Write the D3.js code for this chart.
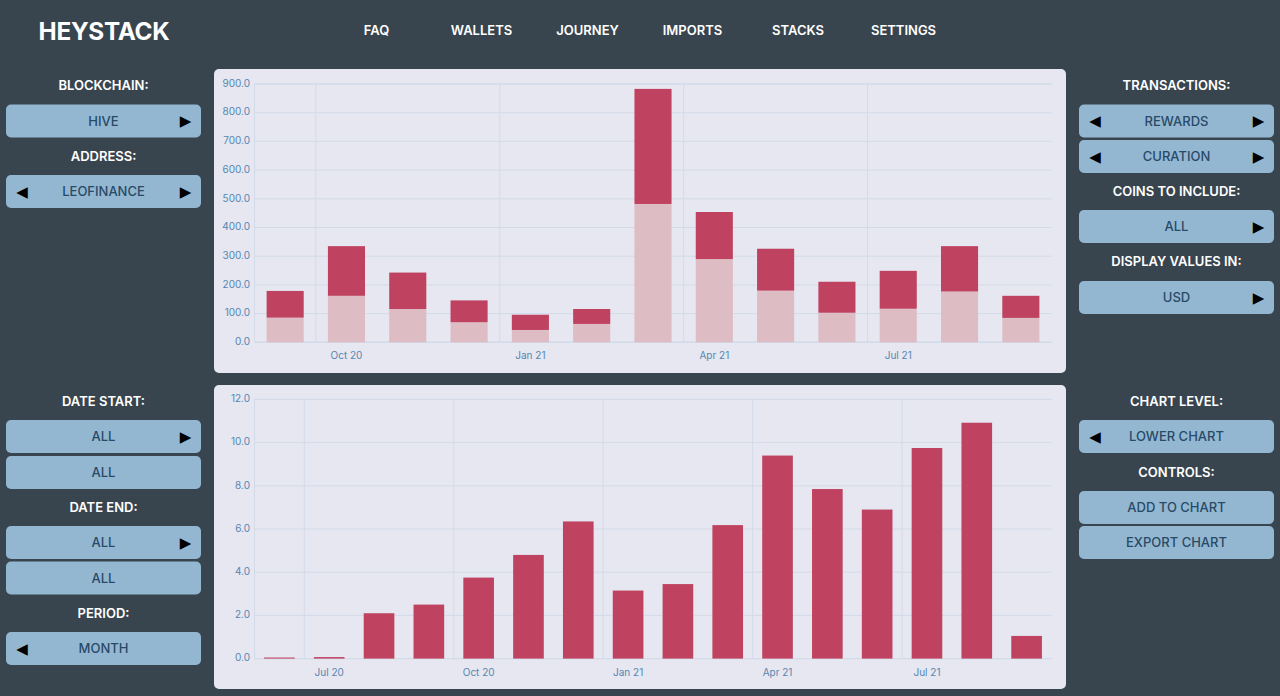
<!DOCTYPE html>
<html><head><meta charset="utf-8">
<script src="https://cdn.jsdelivr.net/npm/d3@7/dist/d3.min.js"></script>
<style>
html,body{margin:0;padding:0;background:#38454f;overflow:hidden}
svg{display:block;font-family:Inter,"Noto Sans",sans-serif}
</style></head><body><svg id="c" width="1280" height="696"></svg>
<script>
// ---- data ----
const topMonths = ["Sep 20","Oct 20","Nov 20","Dec 20","Jan 21","Feb 21","Mar 21","Apr 21","May 21","Jun 21","Jul 21","Aug 21","Sep 21"];
const topLower  = [86,162,116,70,43,64,482,290,180,103,117,177,85];
const topUpper  = [93,173,127,76,53,52,401,164,146,108,132,158,77];
const topTicks  = [0,100,200,300,400,500,600,700,800,900];
const bottomMonths = ["Jun 20","Jul 20","Aug 20","Sep 20","Oct 20","Nov 20","Dec 20","Jan 21","Feb 21","Mar 21","Apr 21","May 21","Jun 21","Jul 21","Aug 21","Sep 21"];
const bottomValues = [0.05,0.07,2.1,2.5,3.75,4.8,6.35,3.15,3.45,6.18,9.4,7.85,6.9,9.75,10.92,1.05];
const bottomTicks  = [0,2,4,6,8,10,12];
const quarterLabels = ["Jul 20","Oct 20","Jan 21","Apr 21","Jul 21"];
const navItems = ["FAQ","WALLETS","JOURNEY","IMPORTS","STACKS","SETTINGS"];
const leftLabels  = ["BLOCKCHAIN:","ADDRESS:","DATE START:","DATE END:","PERIOD:"];
const rightLabels = ["TRANSACTIONS:","COINS TO INCLUDE:","DISPLAY VALUES IN:","CHART LEVEL:","CONTROLS:"];
const leftButtons  = [["HIVE",0,1],["LEOFINANCE",1,1],["ALL",0,1],["ALL",0,0],["ALL",0,1],["ALL",0,0],["MONTH",1,0]];
const rightButtons = [["REWARDS",1,1],["CURATION",1,1],["ALL",0,1],["USD",0,1],["LOWER CHART",1,0],["ADD TO CHART",0,0],["EXPORT CHART",0,0]];

// ---- layout ----
const svg = d3.select("#c");
const C = {panel:"#e6e7f1",btn:"#94b7d1",btnText:"#274a67",bar:"#bf4260",light:"#ddbcc3",grid:"#d3dbe8",tick:"#5686b0"};
const leftLabelY=[85.5,156,401,507,613], rightLabelY=[85.5,191,261.5,401,472];
const leftBtnY=[104.5,175,420,456,526,561.5,632], rightBtnY=[104.5,140,210,281,420,491,526];
const navX=[376.5,481.5,587.5,692.5,798,903.5];

svg.append("text").attr("x",104).attr("y",31).attr("dy",".36em").attr("text-anchor","middle")
  .attr("fill","#fff").attr("font-size",24.3).attr("font-weight",700).attr("letter-spacing",-0.3).text("HEYSTACK");
svg.selectAll(".nav").data(navItems).join("text").attr("class","nav")
  .attr("x",(d,i)=>navX[i]).attr("y",30.5).attr("dy",".36em").attr("text-anchor","middle")
  .attr("fill","#fff").attr("font-size",13).attr("font-weight",600).text(d=>d);

function column(x,labels,labelY,buttons,btnY){
  const g=svg.append("g");
  g.selectAll(".lab").data(labels).join("text").attr("x",x+97.5).attr("y",(d,i)=>labelY[i]).attr("dy",".36em")
    .attr("text-anchor","middle").attr("fill","#fff").attr("font-size",13).attr("font-weight",600).text(d=>d);
  const b=g.selectAll(".b").data(buttons).join("g").attr("transform",(d,i)=>`translate(${x},${btnY[i]})`);
  b.append("rect").attr("width",195).attr("height",33).attr("rx",5).attr("fill",C.btn);
  b.append("text").attr("x",97.5).attr("y",16.5).attr("dy",".36em").attr("text-anchor","middle")
    .attr("fill",C.btnText).attr("font-size",13).attr("font-weight",550).text(d=>d[0]);
  b.filter(d=>d[1]).append("text").attr("x",16).attr("y",16.5).attr("dy",".36em").attr("text-anchor","middle")
    .attr("font-family","DejaVu Sans").attr("font-size",15).attr("fill","#000").text("◀");
  b.filter(d=>d[2]).append("text").attr("x",179.5).attr("y",16.5).attr("dy",".36em").attr("text-anchor","middle")
    .attr("font-family","DejaVu Sans").attr("font-size",15).attr("fill","#000").text("▶");
}
column(6,leftLabels,leftLabelY,leftButtons,leftBtnY);
column(1079,rightLabels,rightLabelY,rightButtons,rightBtnY);

function chart(opts){
  svg.append("rect").attr("x",214).attr("y",opts.panelY).attr("width",852).attr("height",304).attr("rx",5).attr("fill",C.panel);
  const x=d3.scaleBand().domain(opts.months).range([254.5,1051.5]).paddingInner(opts.pad).paddingOuter(opts.pad/2);
  const y=d3.scaleLinear().domain(opts.domain).range([opts.y0,opts.y1]);
  const gy=svg.append("g").attr("transform","translate(254.5,0)")
    .call(d3.axisLeft(y).offset(0).tickValues(opts.ticks).tickFormat(d3.format(".1f")).tickSize(-797).tickPadding(4.5));
  gy.select(".domain").attr("stroke",C.grid);
  gy.selectAll(".tick line").attr("stroke",C.grid);
  gy.selectAll("text").attr("fill",C.tick).attr("font-size",10).attr("font-family","Inter").attr("dy",".27em");
  const labelled=opts.months.filter(m=>quarterLabels.includes(m));
  const gx=svg.append("g").attr("transform",`translate(0,${opts.y0})`)
    .call(d3.axisBottom(x).offset(0).tickValues(labelled).tickSize(0).tickPadding(opts.xPad));
  gx.select(".domain").attr("stroke",C.grid);
  gx.selectAll("text").attr("fill",C.tick).attr("font-size",10).attr("font-family","Inter");
  // vertical gridlines sit on the left edge of each quarter's band
  const step=x.step();
  svg.selectAll(null).data(labelled).join("line")
    .attr("x1",m=>x(m)-step*opts.pad/2).attr("x2",m=>x(m)-step*opts.pad/2)
    .attr("y1",opts.y1).attr("y2",opts.y0).attr("stroke",C.grid);
  return {x,y};
}

const t=chart({panelY:69,months:topMonths,domain:[0,900],ticks:topTicks,y0:342.3,y1:84,pad:0.395,xPad:10});
svg.append("g").selectAll("rect").data(topMonths).join("rect")
  .attr("x",m=>t.x(m)).attr("width",t.x.bandwidth())
  .attr("y",(m,i)=>t.y(topLower[i])).attr("height",(m,i)=>t.y(0)-t.y(topLower[i])).attr("fill",C.light);
svg.append("g").selectAll("rect").data(topMonths).join("rect")
  .attr("x",m=>t.x(m)).attr("width",t.x.bandwidth())
  .attr("y",(m,i)=>t.y(topLower[i]+topUpper[i])).attr("height",(m,i)=>t.y(topLower[i])-t.y(topLower[i]+topUpper[i])).attr("fill",C.bar);

const b=chart({panelY:385,months:bottomMonths,domain:[0,12],ticks:bottomTicks,y0:658.6,y1:399.4,pad:0.385,xPad:10});
svg.append("g").selectAll("rect").data(bottomMonths).join("rect")
  .attr("x",m=>b.x(m)).attr("width",b.x.bandwidth())
  .attr("y",(m,i)=>b.y(bottomValues[i])).attr("height",(m,i)=>b.y(0)-b.y(bottomValues[i])).attr("fill",C.bar);
</script></body></html>
